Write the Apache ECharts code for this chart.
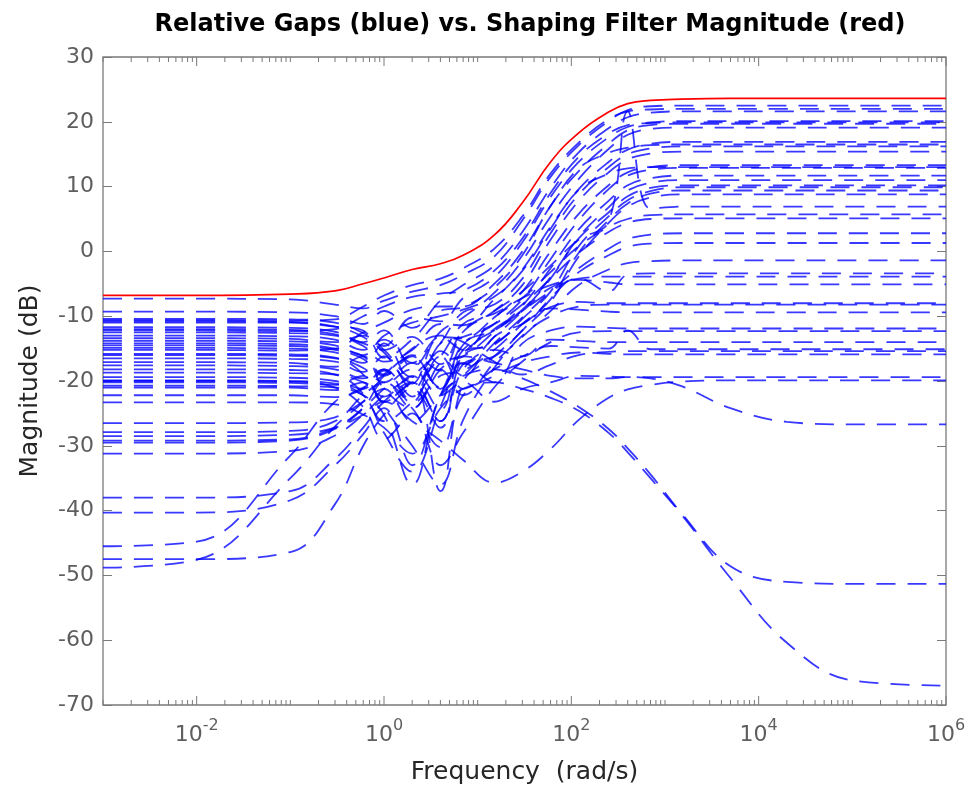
<!DOCTYPE html>
<html><head><meta charset="utf-8">
<script src="https://cdn.jsdelivr.net/npm/echarts@6/dist/echarts.min.js"></script>
<style>html,body{margin:0;padding:0;background:#fff}#c{width:971px;height:788px}</style>
</head><body><div id="c"></div>
<script>
// ---- data ----
const FREQ = [0.001, 0.01, 0.1, 0.3, 0.6, 1, 2, 4, 7, 15, 30, 60, 120, 250, 400, 700, 1500, 5000, 20000, 100000, 1000000];
const SHAPING_DB = [-6.8,-6.8,-6.6,-6.1,-5.0,-4.1,-2.8,-1.9,-0.6,2.5,7.5,13.8,18.3,21.5,22.8,23.3,23.5,23.6,23.6,23.6,23.6];

const g01 = [-7.3,-7.3,-7.4,-8.2,-8.8,-7.6,-6.2,-5.2,-3.6,-0.8,4.8,11.5,16.4,20.1,21.8,22.4,22.5,22.5,22.5,22.5,22.5];
const g02 = [-9.3,-9.3,-9.4,-10,-11.2,-9.2,-11.8,-7.6,-5.2,-2.2,3,9.8,15.3,19,20.7,21.4,21.6,21.6,21.6,21.6,21.6];
const g03 = [-10.4,-10.4,-10.5,-11,-12.6,-14.6,-10.2,-10.8,-7.2,-4,1.4,8.4,13.8,17.6,19.2,19.9,20.1,20.1,20.1,20.1,20.1];
const g04 = [-11,-11,-11,-11.6,-12.2,-16.4,-13.6,-9.2,-8.6,-5.6,-0.6,7,12.4,16.6,18.7,19.5,19.7,19.7,19.7,19.7,19.7];
const g05 = [-11.7,-11.7,-11.8,-12.4,-14,-12.2,-17.8,-12.4,-10.2,-6.4,-1.4,5.4,11.2,15.8,18,18.9,19.1,19.1,19.1,19.1,19.1];
const g06 = [-12.5,-12.5,-12.6,-13,-14.6,-17,-15.2,-11.2,-11.4,-7.4,-2.8,3.8,9.6,13.8,15.7,16.6,16.9,16.9,16.9,16.9,16.9];
const g07 = [-13.4,-13.4,-13.5,-14,-13,-15.2,-19.4,-14.2,-9.4,-8.2,-4.2,2.8,8.8,13,15,15.9,16.2,16.2,16.2,16.2,16.2];
const g08 = [-14.2,-14.2,-14.3,-15,-16.2,-19,-16,-18.4,-12.4,-9.2,-5.2,1.8,7.8,12.2,14.2,15.1,15.4,15.4,15.4,15.4,15.4];
const g09 = [-14.9,-14.9,-15,-15.6,-17.2,-14.2,-20.4,-13.2,-13.4,-10.2,-6.2,0,5.8,10.2,12.2,13,13.3,13.3,13.3,13.3,13.3];
const g10 = [-15.8,-15.8,-15.9,-16.4,-18,-20.2,-17.2,-21,-14.4,-11.2,-7.4,-1.2,4.8,9.6,11.7,12.6,12.9,12.9,12.9,12.9,12.9];
const g11 = [-17.1,-17.1,-17.2,-17.8,-16.2,-21.2,-24.2,-17.2,-16.2,-12.4,-8.4,-2.6,3.4,7.8,10.2,11.3,11.7,11.7,11.7,11.7,11.7];
const g12 = [-17.6,-17.6,-17.7,-18.2,-19.6,-18.2,-22.4,-15.4,-17.4,-13.2,-9.2,-4.2,2.2,6.8,9.4,10.6,11,11,11,11,11];
const g13 = [-18.7,-18.7,-18.8,-19,-20.2,-22.4,-19.2,-24.4,-15.6,-14.4,-10.4,-6.2,0.8,5.4,7.9,9.3,9.9,9.9,9.9,9.9,9.9];
const g14 = [-19.4,-19.4,-19.5,-20,-21.2,-18.4,-23.4,-19.2,-18.4,-15.2,-11.2,-7.4,-0.2,4.8,7.4,8.9,9.4,9.4,9.4,9.4,9.4];
const g15 = [-20.2,-20.2,-20.3,-20.6,-19.2,-23.2,-20.4,-26.2,-17.4,-16.2,-12.2,-7.8,-0.8,4.4,6.9,8.3,8.8,8.8,8.8,8.8,8.8];
const g16 = [-12,-12,-12.1,-12.8,-14.2,-15.2,-13.2,-17.4,-12.2,-9.2,-6.2,-2.2,1.8,4.6,21.6,6.6,6.9,6.9,6.9,6.9,6.9];
const g17 = [-13,-13,-13.1,-13.6,-15.2,-13.6,-17.2,-13.2,-15.2,-10.2,-7.2,-3.2,0.8,3.8,5,5.6,5.7,5.7,5.7,5.7,5.7];
const g18 = [-16.5,-16.5,-16.6,-17,-18.6,-16.2,-21.2,-14.2,-13.2,-11.2,-8.2,-4.2,-0.2,3,4.4,5,5.1,5.1,5.1,5.1,5.1];
const g19 = [-20.7,-20.7,-20.8,-21,-22.2,-25.2,-36,-22.2,-19.2,-14.2,-10.2,-6.2,-2.6,0.4,1.9,2.6,2.8,2.8,2.8,2.8,2.8];
const g20 = [-21,-21,-21,-21.4,-20.2,-23.2,-20.2,-37,-20.2,-16.2,-12.2,-7.2,-3.2,-0.6,0.7,1.2,1.3,1.3,1.3,1.3,1.3];
const g21 = [-19.9,-19.9,-20,-20.4,-22.2,-26.2,-23.2,-18.2,-22.2,-17.2,-13.2,-9.2,-5.2,-2.8,-1.8,-1.5,-1.4,-1.4,-1.4,-1.4,-1.4];
const g22 = [-14.5,-14.5,-14.6,-15.2,-16.6,-19.2,-16.2,-21.2,-15.2,-12.2,-9.2,-6.2,-4.2,-6.2,-3.6,-3.4,-3.4,-3.4,-3.4,-3.4,-3.4];
const g23 = [-10.8,-10.8,-10.9,-11.6,-13.2,-15.6,-20.2,-16.2,-11.2,-9.6,-7.2,-5.2,-4.2,-3.9,-3.9,-3.9,-3.9,-3.9,-3.9,-3.9,-3.9];
const g24 = [-48.8,-47.6,-35,-27,-23.2,-19.2,-16.2,-21.2,-14.2,-12.2,-9.2,-5.6,-4.4,-4.8,-5.1,-5.1,-5.1,-5.1,-5.1,-5.1,-5.1];
const g25 = [-47.5,-47.5,-46.4,-39,-30,-25.2,-21.2,-27.2,-16.2,-14.2,-11.2,-8.6,-7.8,-8,-8,-8,-8,-8,-8,-8,-8];
const g26 = [-45.5,-44.8,-31.5,-23.2,-21.2,-18.2,-23.2,-16.2,-19.2,-13.2,-11.2,-8.8,-9,-9.3,-9.4,-9.4,-9.4,-9.4,-9.4,-9.4,-9.4];
const g27 = [-40.3,-40.3,-38.4,-33,-28.2,-24.2,-33,-22.2,-17.2,-20.2,-14.2,-12.2,-11.6,-11.8,-11.9,-11.9,-11.9,-11.9,-11.9,-11.9,-11.9];
const g28 = [-38,-38,-37,-32,-27.2,-23.2,-20.2,-26.2,-18.2,-15.2,-16.2,-13.6,-13.8,-14,-14,-14,-14,-14,-14,-14,-14];
const g29 = [-31.2,-31.2,-30.8,-28.4,-25.2,-22.2,-19.2,-16.2,-21.2,-18.2,-16.2,-14.6,-14.8,-15,-12.2,-15.1,-15.1,-15.1,-15.1,-15.1,-15.1];
const g30 = [-29.5,-29.5,-29.2,-27.4,-24.2,-20.2,-24.2,-30.2,-22.2,-19.2,-17.2,-16.2,-15.6,-15.8,-15.9,-15.9,-15.9,-15.9,-15.9,-15.9,-15.9];
const g31 = [-29.2,-29.2,-29,-27.2,-24.2,-21.2,-18.2,-22.2,-20.2,-23.2,-21.2,-20.2,-19.2,-19.3,-19.4,-19.4,-19.4,-19.4,-19.4,-19.4,-19.4];
const g32 = [-28.5,-28.5,-28.3,-27.2,-25.2,-23.2,-26.2,-29.2,-32.2,-35.7,-34,-30.5,-26,-22.6,-21.3,-20.6,-20.1,-19.9,-19.9,-19.9,-19.9];
const g33 = [-27.9,-27.9,-27.7,-26.2,-22.2,-20.2,-24.2,-18.2,-16.2,-17.2,-18.2,-19.2,-19.6,-19.6,-19.4,-19.6,-20.8,-24.2,-26.3,-26.7,-26.7];
const g34 = [-26.5,-26.5,-26.4,-25.6,-23.2,-21.2,-26.2,-22.2,-19.2,-18.2,-19.6,-21.6,-24,-27.4,-30.4,-34.4,-40.4,-48.6,-51,-51.3,-51.3];
const g35 = [-23.3,-23.3,-23.3,-23.6,-25.2,-27.2,-31.2,-24.2,-21.2,-20.2,-21.2,-22.6,-24.6,-28,-31,-35,-40.6,-50.4,-60.4,-66.2,-67];
const g36 = [-10.6,-10.6,-10.7,-10.5,-8.5,-6.8,-5.2,-4.2,-2.6,0.4,5.4,12,16.8,20.4,21.6,21.9,22,22,22,22,22];
const g37 = [-12.2,-12.2,-12.3,-12,-10,-8.5,-7,-6.5,-6,-3,2,9,14.6,18.2,19.5,19.8,19.9,19.9,19.9,19.9,19.9];
const g38 = [-15.2,-15.2,-15.3,-15,-12.5,-11,-9,-8.5,-8.5,-5,0,7,12.8,15.2,16,16.4,16.5,16.5,16.5,16.5,16.5];
const g39 = [-18.2,-18.2,-18.3,-19,-22,-28,-34,-24,-16,-12,-9,-4,2,6,8.5,9.8,10.2,10.2,10.2,10.2,10.2];
const g40 = [-16,-16,-16.1,-16.5,-19,-24,-30,-36,-26,-18,-13,-10,-8.5,-8.2,-8.2,-8.2,-8.2,-8.2,-8.2,-8.2,-8.2];
const g41 = [-20,-20,-20.1,-21,-24,-29,-25,-33,-28,-21,-17,-14,-12.5,-12.3,-12.3,-12.3,-12.3,-12.3,-12.3,-12.3,-12.3];
const g42 = [-13.8,-13.8,-13.9,-14.5,-16,-13,-11,-10,-9,-7,-3,3.5,9.5,12,12.8,13,13,13,13,13,13];
const g43 = [-22.2,-22.2,-22.2,-22.5,-21,-19,-15,-13,-14,-17,-19,-17.5,-16,-15.5,-15.4,-15.4,-15.4,-15.4,-15.4,-15.4,-15.4];

const GAP_CURVES = [g01,g02,g03,g04,g05,g06,g07,g08,g09,g10,g11,g12,g13,g14,g15,g16,g17,g18,
  g19,g20,g21,g22,g23,g24,g25,g26,g27,g28,g29,g30,g31,g32,g33,g34,g35,
  g36,g37,g38,g39,g40,g41,g42,g43];

const Y_TICKS = [-70,-60,-50,-40,-30,-20,-10,0,10,20,30];
const X_LABEL_EXPONENTS = [-2, 0, 2, 4, 6];
const X_DECADES = [-3,-2,-1,0,1,2,3,4,5,6];

const TITLE = 'Relative Gaps (blue) vs. Shaping Filter Magnitude (red)';
const X_NAME = 'Frequency  (rad/s)';
const Y_NAME = 'Magnitude (dB)';

// ---- build ----
const FONT = '"DejaVu Sans", "Liberation Sans", Arial, sans-serif';
const AXIS_GRAY = '#7a7a7a';
const LABEL_GRAY = '#5e5e5e';

const xTickData = [];
X_DECADES.forEach(d => {
  for (let k = 1; k <= 9; k++) {
    if (d === 6 && k > 1) break;
    const f = k * Math.pow(10, d);
    const major = (k === 1 && X_LABEL_EXPONENTS.indexOf(d) >= 0) ? 1 : 0;
    xTickData.push([f, -70, major]);
  }
});

const series = [];
GAP_CURVES.forEach((c, i) => {
  series.push({
    type: 'line', name: 'gap' + (i + 1),
    data: FREQ.map((f, j) => [f, c[j]]),
    symbol: 'none', showSymbol: false, smooth: 0.4,
    lineStyle: { color: '#0000ff', width: 1.8, type: [19, 12], opacity: 0.78 },
    silent: true, z: 2, animation: false
  });
});
series.push({
  type: 'line', name: 'shaping filter',
  data: FREQ.map((f, j) => [f, SHAPING_DB[j]]),
  symbol: 'none', showSymbol: false, smooth: 0.45,
  lineStyle: { color: '#ff0000', width: 1.7 },
  silent: true, z: 3, animation: false
});
series.push({
  type: 'custom', name: 'xticks', data: xTickData, silent: true, z: 5, clip: false,
  encode: { x: 0, y: 1 }, animation: false,
  renderItem: function (params, api) {
    const f = api.value(0);
    const len = api.value(2) ? 9 : 5;
    const pb = api.coord([f, -70]);
    const pt = api.coord([f, 30]);
    const st = { stroke: AXIS_GRAY, lineWidth: 1 };
    return {
      type: 'group', children: [
        { type: 'line', shape: { x1: pb[0], y1: pb[1], x2: pb[0], y2: pb[1] - len }, style: st },
        { type: 'line', shape: { x1: pt[0], y1: pt[1], x2: pt[0], y2: pt[1] + len }, style: st }
      ]
    };
  }
});

const chart = echarts.init(document.getElementById('c'), null, { renderer: 'canvas' });
chart.setOption({
  animation: false,
  backgroundColor: '#ffffff',
  textStyle: { fontFamily: FONT },
  title: {
    text: TITLE, left: 525, top: 8, textAlign: 'center',
    textStyle: { fontFamily: FONT, fontWeight: 'bold', fontSize: 24, color: '#000' }
  },
  grid: { left: 103, right: 25, top: 57, bottom: 83, containLabel: false, outerBoundsMode: 'none',
    show: true, borderColor: AXIS_GRAY, borderWidth: 1.3, backgroundColor: 'transparent' },
  xAxis: {
    type: 'log', logBase: 10, min: 0.001, max: 1000000,
    name: X_NAME, nameLocation: 'middle', nameGap: 55,
    nameTextStyle: { fontFamily: FONT, fontSize: 25, color: '#262626' },
    axisLine: { show: false }, axisTick: { show: false }, splitLine: { show: false }, minorTick: { show: false },
    axisLabel: {
      margin: 13, color: LABEL_GRAY,
      formatter: function (v) {
        const e = Math.round(Math.log10(v));
        return X_LABEL_EXPONENTS.indexOf(e) >= 0 ? '{b|10}{s|' + e + '}' : '';
      },
      rich: {
        b: { fontFamily: FONT, fontSize: 22, color: LABEL_GRAY, lineHeight: 28, verticalAlign: 'bottom' },
        s: { fontFamily: FONT, fontSize: 16, color: LABEL_GRAY, lineHeight: 16, verticalAlign: 'top' }
      }
    }
  },
  yAxis: [{
    type: 'value', min: -70, max: 30, interval: 10,
    name: Y_NAME, nameLocation: 'middle', nameGap: 60, nameRotate: 90,
    nameTextStyle: { fontFamily: FONT, fontSize: 25, color: '#262626' },
    axisLine: { show: false }, splitLine: { show: false },
    axisTick: { show: true, inside: true, length: 9, lineStyle: { color: AXIS_GRAY } },
    axisLabel: { margin: 9, color: LABEL_GRAY, fontSize: 22, fontFamily: FONT,
      formatter: v => (Y_TICKS.indexOf(v) >= 0 ? String(v) : '') }
  }, {
    type: 'value', min: -70, max: 30, interval: 10, position: 'right',
    axisLine: { show: false }, splitLine: { show: false }, axisLabel: { show: false },
    axisTick: { show: true, inside: true, length: 9, lineStyle: { color: AXIS_GRAY } }
  }],
  series: series
});
</script></body></html>
